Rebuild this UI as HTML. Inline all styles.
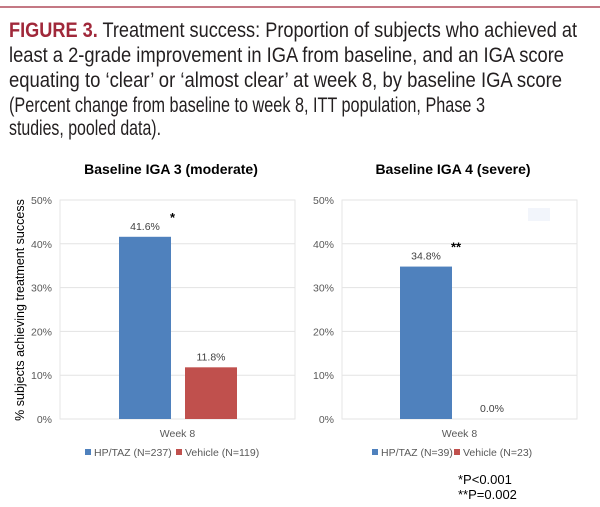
<!DOCTYPE html>
<html><head><meta charset="utf-8"><style>
body{margin:0;background:#fff;}
svg{display:block;font-family:"Liberation Sans",Arial,sans-serif;}
</style></head><body>
<svg width="600" height="507" viewBox="0 0 600 507">
<line x1="0" y1="7" x2="600" y2="7" stroke="#a0283a" stroke-width="1.2"/>
<g font-family="'Liberation Sans Narrow','Liberation Sans',sans-serif" font-size="21" fill="#231f20">
<text x="9" y="37" textLength="568" lengthAdjust="spacingAndGlyphs"><tspan fill="#a0283a" font-weight="bold">FIGURE 3.</tspan> Treatment success: Proportion of subjects who achieved at</text>
<text x="9" y="62" textLength="555" lengthAdjust="spacingAndGlyphs">least a 2-grade improvement in IGA from baseline, and an IGA score</text>
<text x="9" y="87" textLength="553" lengthAdjust="spacingAndGlyphs">equating to ‘clear’ or ‘almost clear’ at week 8, by baseline IGA score</text>
<text x="9" y="112" textLength="476" lengthAdjust="spacingAndGlyphs">(Percent change from baseline to week 8, ITT population, Phase 3</text>
<text x="9" y="135" textLength="152" lengthAdjust="spacingAndGlyphs">studies, pooled data).</text>
</g>
<g id="c1"></g><g id="c2"></g>
<text x="24" y="310" transform="rotate(-90 24 310)" text-anchor="middle" font-size="12.5" fill="#000">% subjects achieving treatment success</text>
<text x="458" y="484" font-size="13" fill="#000">*P&lt;0.001</text>
<text x="458" y="499" font-size="13" fill="#000">**P=0.002</text>
</svg>
<script>
const ticks=[0,10,20,30,40,50];
const titles=["Baseline IGA 3 (moderate)","Baseline IGA 4 (severe)"];
const hpValues=[41.6,34.8];
const vehValues=[11.8,0.0];
const stars=["*","**"];
const hpLabels=["HP/TAZ (N=237)","HP/TAZ (N=39)"];
const vehLabels=["Vehicle (N=119)","Vehicle (N=23)"];
const NS="http://www.w3.org/2000/svg";
function mk(p,t,a,txt){const e=document.createElementNS(NS,t);for(const k in a)e.setAttribute(k,a[k]);if(txt!=null)e.textContent=txt;p.appendChild(e);return e;}
const panels=[{g:'c1',x0:60,x1:295,cx:177,bx:119,lx:85},{g:'c2',x0:342,x1:577,cx:459,bx:400,lx:372}];
const yTop=200,yBot=419;
const y=v=>yBot-(v/50)*(yBot-yTop);
panels.forEach((p,i)=>{
 const g=document.getElementById(p.g);
 const t=mk(g,'text',{x:p.cx-6,y:174,'text-anchor':'middle','font-size':14,'font-weight':'bold',fill:'#000'},titles[i]);
 
 
 mk(g,'rect',{x:p.x0,y:yTop,width:p.x1-p.x0,height:yBot-yTop,fill:'none',stroke:'#e6e6e6'});
 ticks.forEach(v=>{
  const l=mk(g,'line',{x1:p.x0,x2:p.x1,y1:y(v),y2:y(v),stroke:'#e3e3e3'});
  
  
  const tl=mk(g,'text',{x:p.x0-8,y:y(v)+4,'text-anchor':'end','font-size':10.5,fill:'#595959'},v+'%');
  
  
 });
 const bw=52;
 const b1=mk(g,'rect',{x:p.bx,y:y(hpValues[i]),width:bw,height:yBot-y(hpValues[i]),fill:'#4f81bd'});
 
 
 const vx=p.bx+bw+14;
 const b2=mk(g,'rect',{x:vx,y:y(vehValues[i]),width:bw,height:yBot-y(vehValues[i]),fill:'#c0504d'});
 
 
 const v1=mk(g,'text',{x:p.bx+bw/2,y:y(hpValues[i])-7,'text-anchor':'middle','font-size':10.5,fill:'#404040'},hpValues[i].toFixed(1)+'%');
 
 
 const s=mk(g,'text',{x:p.bx+bw/2+25,y:y(hpValues[i])-15,'font-size':13,'font-weight':'bold',fill:'#000'},stars[i]);
 
 
 const v2=mk(g,'text',{x:vx+bw/2,y:y(vehValues[i])-7,'text-anchor':'middle','font-size':10.5,fill:'#404040'},vehValues[i].toFixed(1)+'%');
 
 
 const xl=mk(g,'text',{x:(p.x0+p.x1)/2,y:437,'text-anchor':'middle','font-size':10.5,fill:'#595959'},'Week 8');
 
 
 const lg=mk(g,'g',{});
 
 
 mk(lg,'rect',{x:p.lx,y:449,width:6,height:6,fill:'#4f81bd'});
 const l1=mk(lg,'text',{x:p.lx+9,y:456,'font-size':10.5,fill:'#595959'},hpLabels[i]);
 
 
 const w=i==0?91:82;
 mk(lg,'rect',{x:p.lx+w,y:449,width:6,height:6,fill:'#c0504d'});
 const l2=mk(lg,'text',{x:p.lx+w+9,y:456,'font-size':10.5,fill:'#595959'},vehLabels[i]);
 
 
});
mk(document.getElementById('c2'),'rect',{x:528,y:208,width:22,height:13,fill:'#f2f5fb'});
</script>
</body></html>
